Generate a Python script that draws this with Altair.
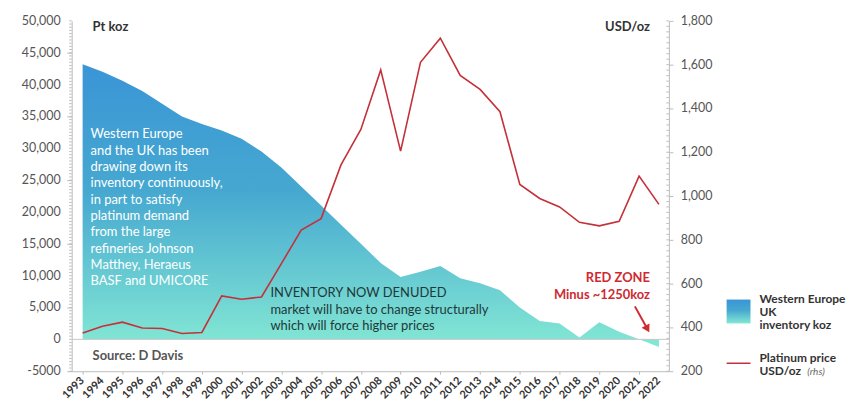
import altair as alt
import pandas as pd

years = list(range(1993, 2023))
inventory_koz = [43200, 42000, 40600, 39000, 37000, 35000, 33800, 32800, 31500, 29500,
                 27000, 24000, 21000, 18000, 15000, 12000, 9800, 10600, 11500, 9600,
                 8800, 7700, 5000, 2900, 2500, 300, 2700, 1200, 0, -1200]
price_usd = [374, 405, 424, 397, 395, 372, 377, 544, 529, 539,
             691, 845, 897, 1142, 1304, 1576, 1205, 1611, 1721, 1551,
             1487, 1385, 1053, 989, 950, 880, 864, 885, 1091, 962]

left_major = list(range(-5000, 50001, 5000))
left_minor = list(range(-5000, 50001, 500))
right_major = list(range(200, 1801, 200))
right_minor = list(range(200, 1801, 25))

note_lines = ["Western Europe", "and the UK has been", "drawing down its",
              "inventory continuously,", "in part to satisfy", "platinum demand",
              "from the large", "refineries Johnson", "Matthey, Heraeus",
              "BASF and UMICORE"]
denuded_lines = ["INVENTORY NOW DENUDED", "market will have to change structurally",
                 "which will force higher prices"]
redzone_lines = ["RED ZONE", "Minus ~1250koz"]
legend_area_lines = ["Western Europe", "UK", "inventory koz"]
legend_line_lines = ["Platinum price", "USD/oz"]

df = pd.DataFrame({"year": years, "inventory": inventory_koz, "price": price_usd})
df_lmajor = pd.DataFrame({"v": left_major})
df_lminor = pd.DataFrame({"v": left_minor})
df_rmajor = pd.DataFrame({"v": right_major})
df_rminor = pd.DataFrame({"v": right_minor})
one = pd.DataFrame({"a": [0]})

FONT = "Lato"
RED = "#c4313a"
TXTRED = "#cf2a31"
DARK = "#333333"
AXC = "#bbbbbb"
LBL = "#555555"

xscale = alt.Scale(domain=[1992.45, 2022.5], nice=False, zero=False)
yleft = alt.Scale(domain=[-5000, 50000], nice=False, zero=False)
yright = alt.Scale(domain=[200, 1800], nice=False, zero=False)

grad = alt.LinearGradient(
    gradient="linear",
    stops=[alt.GradientStop(color="#3a95d6", offset=0),
           alt.GradientStop(color="#46a8d0", offset=0.45),
           alt.GradientStop(color="#84e8d4", offset=1)],
    x1=0, x2=0, y1=0, y2=1)

xaxis = alt.Axis(values=years, labels=False, tickSize=3, tickColor=AXC, domainColor=AXC,
                 grid=False, title=None)

area = alt.Chart(df).mark_area(color=grad, opacity=1).encode(
    x=alt.X("year:Q", scale=xscale, axis=xaxis),
    y=alt.Y("inventory:Q", scale=yleft, axis=alt.Axis(
        values=left_major, orient="left", title=None, grid=False, labels=False,
        tickSize=5, tickColor=AXC, domainColor=AXC)),
)

lminor = alt.Chart(df_lminor).mark_rule(color=AXC, strokeWidth=1).encode(
    y=alt.Y("v:Q", scale=yleft), x=alt.value(-2.5), x2=alt.value(0))

llabels = alt.Chart(df_lmajor).transform_calculate(
    lab="datum.v < 0 ? '-5000' : format(datum.v, ',')"
).mark_text(align="right", baseline="middle", fontSize=12.5, font=FONT, color=LBL).encode(
    y=alt.Y("v:Q", scale=yleft), x=alt.value(-11), text="lab:N")

year_labels = alt.Chart(df).mark_text(angle=315, align="right", baseline="middle",
                                      fontSize=11, fontWeight="bold", font=FONT,
                                      color=DARK).encode(
    x=alt.X("year:Q", scale=xscale), y=alt.value(360), text=alt.Text("year:Q", format="d"))

zero = alt.Chart(one).mark_rule(color="#c8c8c8", strokeWidth=1).encode(y=alt.datum(0))

note = alt.Chart(one).mark_text(text=note_lines, align="left", baseline="alphabetic",
                                lineHeight=16.4, fontSize=13, font=FONT, color="white").encode(
    x=alt.datum(1993.4), y=alt.datum(31550))

denuded = alt.Chart(one).mark_text(text=denuded_lines, align="left", baseline="alphabetic",
                                   lineHeight=16.5, fontSize=13, font=FONT, color="#1f3838").encode(
    x=alt.datum(2002.45), y=alt.datum(6590))

redzone = alt.Chart(one).mark_text(text=redzone_lines, align="right", baseline="alphabetic",
                                   lineHeight=17, fontSize=13, font=FONT, fontWeight="bold",
                                   color=TXTRED).encode(
    x=alt.datum(2021.55), y=alt.datum(8950))

arrow_line = alt.Chart(one).mark_rule(color=TXTRED, strokeWidth=2).encode(
    x=alt.datum(2020.79), y=alt.datum(5180), x2=alt.datum(2021.42), y2=alt.datum(1630))
arrow_head = alt.Chart(one).mark_point(shape="triangle-down", filled=True, size=80,
                                       angle=331, color=TXTRED, opacity=1).encode(
    x=alt.datum(2021.42), y=alt.datum(1630))

source = alt.Chart(one).mark_text(text="Source: D Davis", align="left", baseline="alphabetic",
                                  fontSize=13, font=FONT, fontWeight="bold", color=LBL).encode(
    x=alt.datum(1993.5), y=alt.datum(-3250))

pt_title = alt.Chart(one).mark_text(text="Pt koz", align="left", baseline="alphabetic",
                                    fontSize=13, font=FONT, fontWeight="bold", color=DARK).encode(
    x=alt.datum(1993.5), y=alt.datum(48350))

usd_title = alt.Chart(one).mark_text(text="USD/oz", align="right", baseline="alphabetic",
                                     fontSize=13, font=FONT, fontWeight="bold", color=DARK).encode(
    x=alt.datum(2021.55), y=alt.datum(48350))

leg_swatch = alt.Chart(one).mark_rect(color=grad).encode(
    x=alt.value(658), x2=alt.value(682), y=alt.value(280), y2=alt.value(304))
leg_area_text = alt.Chart(one).mark_text(text=legend_area_lines, align="left", baseline="alphabetic",
                                         lineHeight=13.2, fontSize=12, font=FONT, fontWeight="bold",
                                         color=DARK).encode(
    x=alt.value(691), y=alt.value(283))
leg_line = alt.Chart(one).mark_rule(color=RED, strokeWidth=1.5).encode(
    x=alt.value(658), x2=alt.value(682), y=alt.value(344))
leg_line_text = alt.Chart(one).mark_text(text=legend_line_lines, align="left", baseline="alphabetic",
                                         lineHeight=13.2, fontSize=12, font=FONT, fontWeight="bold",
                                         color=DARK).encode(
    x=alt.value(691), y=alt.value(342.7))
leg_rhs = alt.Chart(one).mark_text(text="(rhs)", align="left", baseline="alphabetic",
                                   fontSize=10, font=FONT, fontStyle="italic", color="#666").encode(
    x=alt.value(739), y=alt.value(355.9))

left_group = alt.layer(area, lminor, llabels, year_labels, zero, note, denuded, redzone,
                       arrow_line, arrow_head, source, pt_title, usd_title, leg_swatch,
                       leg_area_text, leg_line, leg_line_text, leg_rhs)

line = alt.Chart(df).mark_line(color=RED, strokeWidth=1.6).encode(
    x=alt.X("year:Q", scale=xscale, axis=xaxis),
    y=alt.Y("price:Q", scale=yright, axis=alt.Axis(
        values=right_major, orient="right", title=None, grid=False, labels=False,
        tickSize=4, tickColor=AXC, domainColor=AXC)),
)
rminor = alt.Chart(df_rminor).mark_rule(color=AXC, strokeWidth=1).encode(
    y=alt.Y("v:Q", scale=yright), x=alt.value(597.5), x2=alt.value(600))
rlabels = alt.Chart(df_rmajor).transform_calculate(
    lab="format(datum.v, ',')"
).mark_text(align="left", baseline="middle", fontSize=12.5, font=FONT, color=LBL).encode(
    y=alt.Y("v:Q", scale=yright), x=alt.value(612), text="lab:N")

right_group = alt.layer(line, rminor, rlabels)

chart = alt.layer(left_group, right_group).resolve_scale(y="independent").properties(
    width=600, height=352,
    autosize=alt.AutoSizeParams(type="none"),
    padding={"left": 64, "top": 12, "right": 188, "bottom": 30},
    background="white",
).configure_view(stroke=None)

chart.save("out.html", embed_options={"renderer": "svg", "actions": False})
